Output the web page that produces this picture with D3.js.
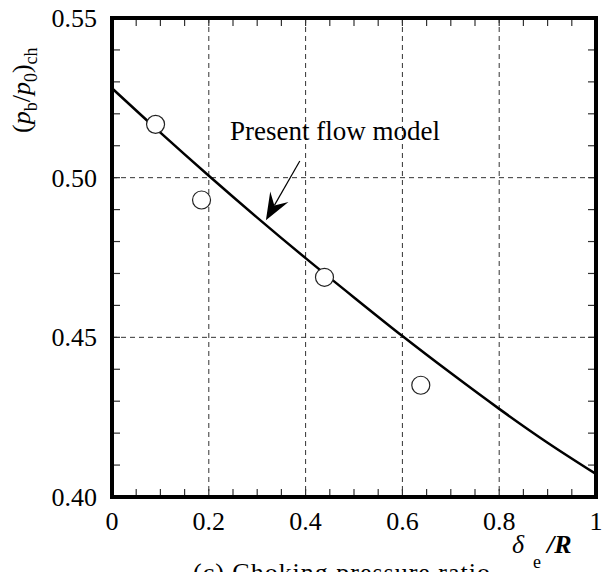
<!DOCTYPE html>
<html>
<head>
<meta charset="utf-8">
<script src="https://cdn.jsdelivr.net/npm/d3@7"></script>
<style>
  body { margin: 0; background: #fff; }
  svg text { font-family: "Liberation Serif", "Times New Roman", "DejaVu Serif", serif; fill: #000; }
</style>
</head>
<body>
<script>
(function(){
    //model curve
    var curveX = [0, 0.1, 0.2, 0.3, 0.4, 0.5, 0.6, 0.7, 0.8, 0.9, 1.0];
    var curveY = [0.528, 0.5141, 0.5006, 0.4875, 0.4748, 0.4625, 0.4504, 0.4388, 0.4276, 0.4170, 0.4072];

    //experimental points
    var expX = [0.090, 0.185, 0.439, 0.638];
    var expY = [0.5167, 0.493, 0.4688, 0.435];

    //tick values
    var xTicks = [0, 0.2, 0.4, 0.6, 0.8, 1];
    var xTickLabels = ["0", "0.2", "0.4", "0.6", "0.8", "1"];
    var yTicks = [0.40, 0.45, 0.50, 0.55];
    var yTickLabels = ["0.40", "0.45", "0.50", "0.55"];
    var xGrid = [0.2, 0.4, 0.6, 0.8];
    var yGrid = [0.45, 0.50];

    //annotation arrow, from label to curve
    var arrowFrom = [0.388, 0.5052];
    var arrowTo = [0.318, 0.4867];

    var width = 608, height = 572;
    var left = 112, right = 596, top = 18, bottom = 497;

    var svg = d3.select("body").append("svg")
        .attr("width", width)
        .attr("height", height);

    var x = d3.scaleLinear().domain([0, 1]).range([left, right]);
    var y = d3.scaleLinear().domain([0.40, 0.55]).range([bottom, top]);

    //dashed grid
    svg.selectAll(".gx").data(xGrid).enter().append("line")
        .attr("x1", d => x(d)).attr("x2", d => x(d))
        .attr("y1", top).attr("y2", bottom)
        .attr("stroke", "#333").attr("stroke-width", 1)
        .attr("stroke-dasharray", "5,4");
    svg.selectAll(".gy").data(yGrid).enter().append("line")
        .attr("x1", left).attr("x2", right)
        .attr("y1", d => y(d)).attr("y2", d => y(d))
        .attr("stroke", "#333").attr("stroke-width", 1)
        .attr("stroke-dasharray", "5,4");

    //inward minor ticks on all four sides
    var tickLen = 8;
    var xMinor = d3.range(0, 21).map(i => i * 0.05);
    var yMinor = d3.range(0, 16).map(i => 0.40 + i * 0.01);
    var tickG = svg.append("g").attr("stroke", "#333").attr("stroke-width", 1.2);
    tickG.selectAll(".tb").data(xMinor).enter().append("line")
        .attr("x1", d => x(d)).attr("x2", d => x(d))
        .attr("y1", bottom).attr("y2", bottom - tickLen);
    tickG.selectAll(".tt").data(xMinor).enter().append("line")
        .attr("x1", d => x(d)).attr("x2", d => x(d))
        .attr("y1", top).attr("y2", top + tickLen);
    tickG.selectAll(".tl").data(yMinor).enter().append("line")
        .attr("x1", left).attr("x2", left + tickLen)
        .attr("y1", d => y(d)).attr("y2", d => y(d));
    tickG.selectAll(".tr").data(yMinor).enter().append("line")
        .attr("x1", right).attr("x2", right - tickLen)
        .attr("y1", d => y(d)).attr("y2", d => y(d));

    //tick labels
    svg.selectAll(".xl").data(xTicks).enter().append("text")
        .attr("x", d => x(d))
        .attr("y", 530)
        .attr("text-anchor", "middle")
        .attr("font-size", 26)
        .text((d, i) => xTickLabels[i]);
    svg.selectAll(".yl").data(yTicks).enter().append("text")
        .attr("x", left - 15)
        .attr("y", d => y(d))
        .attr("dy", "0.34em")
        .attr("text-anchor", "end")
        .attr("font-size", 26)
        .text((d, i) => yTickLabels[i]);

    //model curve
    var line = d3.line()
        .x(d => x(d[0]))
        .y(d => y(d[1]))
        .curve(d3.curveMonotoneX);
    svg.append("path")
        .datum(curveX.map((d, i) => [d, curveY[i]]))
        .attr("d", line)
        .attr("fill", "none")
        .attr("stroke", "#000")
        .attr("stroke-width", 2.5);

    //experimental circles
    svg.selectAll(".pt").data(expX).enter().append("circle")
        .attr("cx", d => x(d))
        .attr("cy", (d, i) => y(expY[i]))
        .attr("r", 9)
        .attr("fill", "#fff")
        .attr("stroke", "#222")
        .attr("stroke-width", 1.2);

    //frame
    svg.append("rect")
        .attr("x", left).attr("y", top)
        .attr("width", right - left).attr("height", bottom - top)
        .attr("fill", "none")
        .attr("stroke", "#000")
        .attr("stroke-width", 4);

    //annotation
    svg.append("text")
        .attr("x", 230).attr("y", 140)
        .attr("font-size", 27)
        .text("Present flow model");

    var x0 = x(arrowFrom[0]), y0 = y(arrowFrom[1]),
        x1 = x(arrowTo[0]), y1 = y(arrowTo[1]);
    var len = Math.hypot(x0 - x1, y0 - y1),
        ux = (x0 - x1) / len, uy = (y0 - y1) / len,
        nx = -uy, ny = ux;
    var headLen = 27, halfW = 10.5, notch = 17;
    svg.append("line")
        .attr("x1", x0).attr("y1", y0)
        .attr("x2", x1 + ux * notch).attr("y2", y1 + uy * notch)
        .attr("stroke", "#000").attr("stroke-width", 1.2);
    var head = [
        [x1, y1],
        [x1 + ux * headLen + nx * halfW, y1 + uy * headLen + ny * halfW],
        [x1 + ux * notch, y1 + uy * notch],
        [x1 + ux * headLen - nx * halfW, y1 + uy * headLen - ny * halfW]
    ];
    svg.append("path")
        .attr("d", "M" + head.map(p => p.join(",")).join("L") + "Z")
        .attr("fill", "#000");

    //y axis title
    var yTitle = svg.append("text")
        .attr("transform", "translate(30,133) rotate(-90)")
        .attr("font-size", 26);
    yTitle.append("tspan").text("(");
    yTitle.append("tspan").attr("font-style", "italic").text("p");
    yTitle.append("tspan").attr("font-size", 18).attr("dy", 7).text("b");
    yTitle.append("tspan").attr("dy", -7).text("/");
    yTitle.append("tspan").attr("font-style", "italic").text("p");
    yTitle.append("tspan").attr("font-size", 18).attr("dy", 7).text("0");
    yTitle.append("tspan").attr("dy", -7).text(")");
    yTitle.append("tspan").attr("font-size", 18).attr("dy", 7).text("ch");

    //x axis title
    svg.append("text")
        .attr("x", 512).attr("y", 553)
        .attr("font-size", 26).attr("font-style", "italic")
        .text("δ");
    svg.append("text")
        .attr("x", 533).attr("y", 568)
        .attr("font-size", 18)
        .text("e");
    svg.append("text")
        .attr("x", 547).attr("y", 553)
        .attr("font-size", 26).attr("font-style", "italic")
        .attr("font-weight", "bold")
        .text("/R");

    //caption (cut off at the bottom edge, as in the reference)
    svg.append("text")
        .attr("x", 193).attr("y", 581)
        .attr("font-size", 26)
        .attr("textLength", 297)
        .text("(c) Choking pressure ratio");
})();
</script>
</body>
</html>
